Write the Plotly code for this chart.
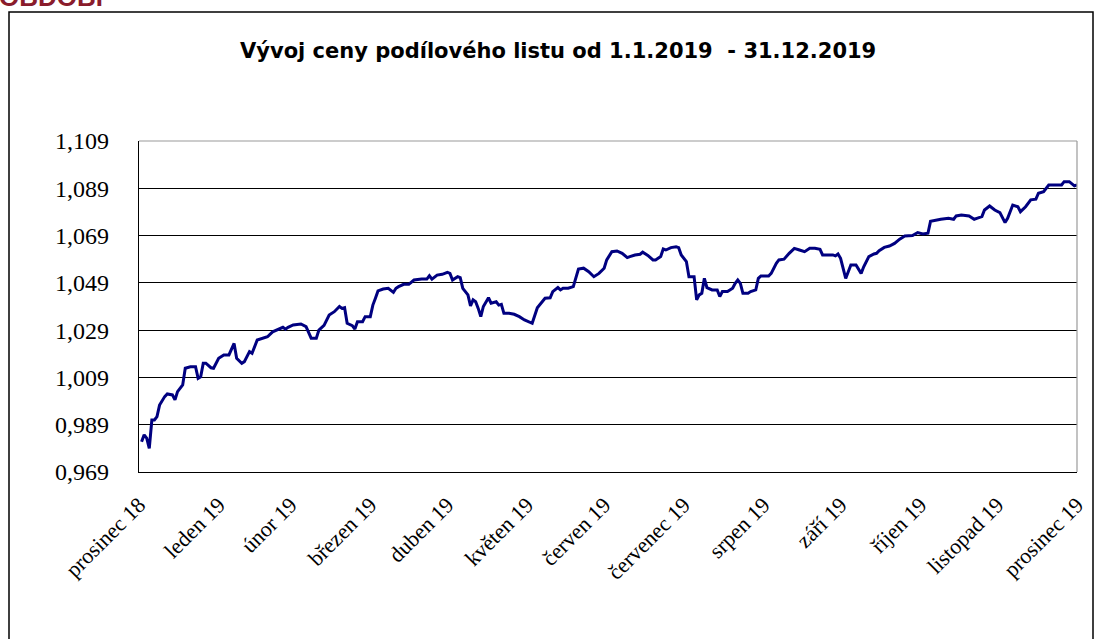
import pandas as pd
import plotly.graph_objects as go

# ---- data (day offset from 31.12.2018, unit price) ----
day = [1, 2, 3, 4, 5, 6, 7, 8, 10, 11, 13, 14, 15, 17, 18, 20, 22, 23, 24, 25, 26, 28, 29, 31, 33, 35,
       37, 38, 40, 41, 43, 44, 46, 48, 50, 52, 54, 56, 57, 58, 60, 63, 65, 67, 69, 70, 72,
       74, 76, 78, 79, 80, 81, 83, 84, 85, 87, 88, 90, 91, 92, 93, 95, 97, 99, 100, 101, 103, 105,
       107, 110, 112, 113, 114, 116, 118, 120, 121, 122, 124, 125, 126, 128, 129, 130, 131, 132,
       133, 134, 136, 137, 139, 140, 141, 142, 144, 146, 148, 150, 153,
       155, 157, 158, 160, 161, 163, 164, 165, 167, 169, 170, 171, 173, 175, 177, 179, 181, 182,
       184, 186, 188, 190, 191, 193, 195, 196, 198, 200, 201, 203, 204, 205, 207, 209, 210, 211,
       213, 214, 216, 217, 218, 219, 220, 221, 223, 225, 226, 227, 229, 231, 232, 233, 234, 235,
       237, 238, 240, 241, 242, 245, 246, 248, 249, 251, 253, 255, 257, 259, 261, 263, 265, 266,
       268, 270, 271, 272, 273, 275, 276, 277, 279, 281, 282, 284, 286, 287, 288, 290, 292, 294,
       296, 298, 301, 303, 305, 307, 308, 310, 312, 315, 317, 318, 320, 323, 325, 326, 328, 329,
       331, 333, 335, 337, 338, 340, 342, 343, 345, 347, 349, 350, 352, 354, 356, 359, 360, 362,
       364, 365]
price = [0.9818, 0.9847, 0.9833, 0.9790, 0.9910, 0.9910, 0.9924, 0.9973, 1.0009, 1.0020, 1.0016,
         0.9995, 1.0030, 1.0058, 1.0129, 1.0135, 1.0135, 1.0086, 1.0093, 1.0150, 1.0150, 1.0131,
         1.0129, 1.0171, 1.0185, 1.0185, 1.0234, 1.0171, 1.0150, 1.0157, 1.0199, 1.0192, 1.0248,
         1.0256, 1.0262, 1.0283, 1.0294, 1.0302, 1.0294, 1.0302, 1.0312, 1.0316, 1.0305, 1.0256,
         1.0256, 1.0290, 1.0310,
         1.0354, 1.0368, 1.0390, 1.0382, 1.0385, 1.0319, 1.0309, 1.0295, 1.0326, 1.0326, 1.0347,
         1.0347, 1.0396, 1.0425, 1.0456, 1.0464, 1.0467, 1.0450, 1.0467, 1.0474, 1.0484, 1.0484,
         1.0502, 1.0506, 1.0506, 1.0520, 1.0506, 1.0523, 1.0526, 1.0534, 1.0530, 1.0502, 1.0516,
         1.0512, 1.0467, 1.0439, 1.0393, 1.0418, 1.0410, 1.0382,
         1.0347, 1.0390, 1.0427, 1.0404, 1.0410, 1.0396, 1.0399, 1.0361, 1.0361, 1.0357, 1.0347,
         1.0333, 1.0319,
         1.0385, 1.0410, 1.0425, 1.0427, 1.0453, 1.0470, 1.0460, 1.0467, 1.0467, 1.0474, 1.0516,
         1.0548, 1.0552, 1.0537, 1.0516, 1.0530, 1.0552, 1.0587,
         1.0622, 1.0625, 1.0615, 1.0597, 1.0601, 1.0608, 1.0611, 1.0620, 1.0606, 1.0587, 1.0587,
         1.0601, 1.0633, 1.0629, 1.0639, 1.0643, 1.0639, 1.0608,
         1.0580, 1.0516, 1.0516, 1.0418, 1.0439, 1.0446, 1.0509, 1.0470, 1.0460, 1.0460, 1.0432,
         1.0453, 1.0453, 1.0467, 1.0488, 1.0502, 1.0488, 1.0446,
         1.0446, 1.0453, 1.0460, 1.0509, 1.0519, 1.0519, 1.0530, 1.0573, 1.0587, 1.0590, 1.0615,
         1.0636, 1.0629, 1.0622, 1.0636, 1.0636, 1.0632, 1.0608,
         1.0608, 1.0608, 1.0604, 1.0612, 1.0594, 1.0509, 1.0537, 1.0566, 1.0566, 1.0530, 1.0558,
         1.0601, 1.0612, 1.0615, 1.0626, 1.0640, 1.0646, 1.0657,
         1.0675, 1.0688, 1.0690, 1.0703, 1.0697, 1.0700, 1.0750, 1.0756, 1.0759, 1.0763, 1.0759,
         1.0773, 1.0777, 1.0773, 1.0759, 1.0763, 1.0770, 1.0798,
         1.0815, 1.0798, 1.0787, 1.0745, 1.0763, 1.0819, 1.0812, 1.0791, 1.0812, 1.0841, 1.0844,
         1.0869, 1.0876, 1.0904, 1.0904, 1.0904, 1.0918, 1.0918,
         1.0900, 1.0904]

tick_dates = ["2018-12-31", "2019-01-31", "2019-02-28", "2019-03-31", "2019-04-30", "2019-05-31",
              "2019-06-30", "2019-07-31", "2019-08-31", "2019-09-30", "2019-10-31", "2019-11-30",
              "2019-12-31"]
tick_labels = ["prosinec 18", "leden 19", "únor 19", "březen 19", "duben 19", "květen 19",
               "červen 19", "červenec 19", "srpen 19", "září 19", "říjen 19", "listopad 19",
               "prosinec 19"]
y_ticks = [0.969, 0.989, 1.009, 1.029, 1.049, 1.069, 1.089, 1.109]

title_text = "Vývoj ceny podílového listu od 1.1.2019  - 31.12.2019"
header_text = "OBDOBÍ"

base = pd.Timestamp("2018-12-31")
dates = [base + pd.Timedelta(days=d) for d in day]

W, H = 1103, 639
L, R, T, B = 139, 1077, 141, 472  # plot area in pixels


def px(x):
    return (x - L) / (R - L)


def py(y):
    return (B - y) / (B - T)


fig = go.Figure()
fig.add_trace(go.Scatter(x=dates, y=price, mode="lines",
                         line=dict(color="#000080", width=3), hoverinfo="x+y"))

serif = "Liberation Serif, Times New Roman, serif"
fig.update_layout(
    width=W, height=H,
    margin=dict(l=L, r=W - R, t=T, b=H - B),
    paper_bgcolor="white", plot_bgcolor="white",
    separators=", ",
    showlegend=False,
    xaxis=dict(
        range=[pd.Timestamp(tick_dates[0]), pd.Timestamp(tick_dates[-1])],
        tickmode="array", tickvals=tick_dates, ticktext=tick_labels,
        tickangle=-45, showgrid=False, zeroline=False,
        showline=True, linecolor="black", linewidth=1.4,
        ticks="", ticklabelstandoff=10,
        tickfont=dict(family=serif, size=22, color="black"),
    ),
    yaxis=dict(
        range=[y_ticks[0], y_ticks[-1]],
        tickmode="array", tickvals=y_ticks, tickformat=".3f",
        showgrid=True, gridcolor="black", gridwidth=1.4, zeroline=False,
        showline=True, linecolor="black", linewidth=1.4,
        ticks="", ticklabelstandoff=24,
        tickfont=dict(family=serif, size=24, color="black"),
    ),
    shapes=[
        # outer frame
        dict(type="rect", xref="paper", yref="paper",
             x0=px(9), x1=px(1093), y0=py(660), y1=py(12),
             line=dict(color="black", width=1.5), layer="below"),
        # top and right border of plot area (grey)
        dict(type="line", xref="paper", yref="paper", x0=0, x1=1, y0=1, y1=1,
             line=dict(color="#9a9a9a", width=1.2), layer="above"),
        dict(type="line", xref="paper", yref="paper", x0=1, x1=1, y0=0, y1=1,
             line=dict(color="#9a9a9a", width=1.2), layer="above"),
    ],
    annotations=[
        dict(text="<b>" + title_text + "</b>", xref="paper", yref="paper",
             x=px(558), y=py(51), xanchor="center", yanchor="middle", showarrow=False,
             font=dict(family="DejaVu Sans, Verdana, sans-serif", size=21, color="black")),
        dict(text="<b>" + header_text + "</b>", xref="paper", yref="paper",
             x=px(-3), y=py(14), xanchor="left", yanchor="bottom", showarrow=False,
             font=dict(family="Liberation Sans, Arial, sans-serif", size=26, color="#8a1c2c")),
    ],
)

fig.write_html("out.html", config={"displayModeBar": False},
               post_script="document.body.style.margin='0';")
